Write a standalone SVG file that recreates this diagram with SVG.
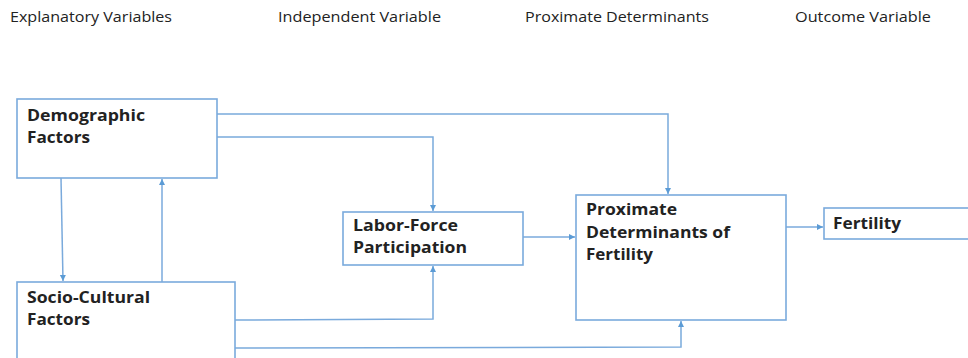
<svg xmlns="http://www.w3.org/2000/svg" width="968" height="358" viewBox="0 0 968 358">
<style>
.hdr{font-family:"Open Sans","Liberation Sans",sans-serif;font-size:15px;fill:#222}
.box{fill:#fff;stroke:#7aaadc;stroke-width:1.6}
.lbl{font-family:"Open Sans","Liberation Sans",sans-serif;font-weight:700;font-size:16px;fill:#222}
.con{fill:none;stroke:#7aaadc;stroke-width:1.5}
</style>
<defs>
<marker id="ah" markerWidth="8" markerHeight="8" refX="6" refY="3" orient="auto" markerUnits="userSpaceOnUse">
<path d="M0,0 L6,3 L0,6 Z" fill="#5b9bd5"/>
</marker>
</defs>
<rect width="968" height="358" fill="#fff"/>
<g id="headers">
<text class="hdr" x="10" y="22" textLength="162" lengthAdjust="spacingAndGlyphs">Explanatory Variables</text>
<text class="hdr" x="278" y="22" textLength="163" lengthAdjust="spacingAndGlyphs">Independent Variable</text>
<text class="hdr" x="525" y="22" textLength="184" lengthAdjust="spacingAndGlyphs">Proximate Determinants</text>
<text class="hdr" x="795" y="22" textLength="136" lengthAdjust="spacingAndGlyphs">Outcome Variable</text>
</g>
<g id="connectors">
<path class="con" d="M217,114 H668 V194" marker-end="url(#ah)"/>
<path class="con" d="M217,137 H433 V211" marker-end="url(#ah)"/>
<path class="con" d="M61,178 L63,281" marker-end="url(#ah)"/>
<path class="con" d="M162,282 V179" marker-end="url(#ah)"/>
<path class="con" d="M235,320 L433,319 V266" marker-end="url(#ah)"/>
<path class="con" d="M235,348 L681,347 V321" marker-end="url(#ah)"/>
<path class="con" d="M523,237 H575" marker-end="url(#ah)"/>
<path class="con" d="M786,227 H823" marker-end="url(#ah)"/>
</g>
<g id="demographic">
<rect class="box" x="17" y="99" width="200" height="79"/>
<text class="lbl" x="27" y="121" textLength="118" lengthAdjust="spacingAndGlyphs">Demographic</text>
<text class="lbl" x="27" y="143" textLength="63" lengthAdjust="spacingAndGlyphs">Factors</text>
</g>
<g id="socio-cultural">
<rect class="box" x="17" y="282" width="218" height="90"/>
<text class="lbl" x="27" y="303" textLength="123" lengthAdjust="spacingAndGlyphs">Socio-Cultural</text>
<text class="lbl" x="27" y="325" textLength="63" lengthAdjust="spacingAndGlyphs">Factors</text>
</g>
<g id="labor-force">
<rect class="box" x="343" y="212" width="180" height="53"/>
<text class="lbl" x="353" y="231" textLength="105" lengthAdjust="spacingAndGlyphs">Labor-Force</text>
<text class="lbl" x="353" y="253" textLength="114" lengthAdjust="spacingAndGlyphs">Participation</text>
</g>
<g id="proximate">
<rect class="box" x="576" y="195" width="210" height="125"/>
<text class="lbl" x="586" y="215" textLength="91" lengthAdjust="spacingAndGlyphs">Proximate</text>
<text class="lbl" x="586" y="238" textLength="144" lengthAdjust="spacingAndGlyphs">Determinants of</text>
<text class="lbl" x="586" y="260" textLength="67" lengthAdjust="spacingAndGlyphs">Fertility</text>
</g>
<g id="fertility">
<rect class="box" x="824" y="208" width="160" height="31"/>
<text class="lbl" x="833" y="229" textLength="68" lengthAdjust="spacingAndGlyphs">Fertility</text>
</g>
</svg>
